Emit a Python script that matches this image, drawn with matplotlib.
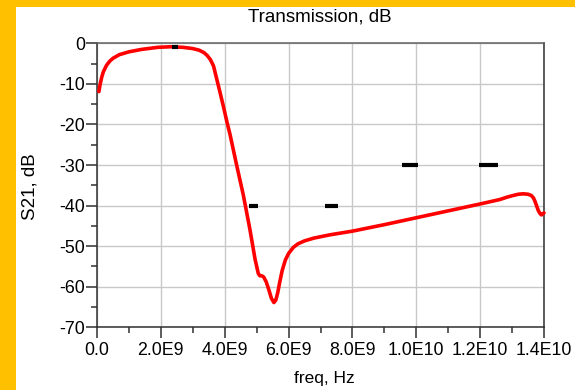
import matplotlib
matplotlib.use("Agg")
import matplotlib.pyplot as plt
import numpy as np

# Red curve S21 (GHz, dB)
freq_ghz = [0.06, 0.1, 0.15, 0.2, 0.3, 0.4, 0.5, 0.7, 1.0, 1.4, 1.9, 2.3, 2.7, 3.0, 3.2, 3.35,
            3.45, 3.55, 3.65, 3.75, 3.85, 3.96, 4.07,
            4.17, 4.37, 4.58, 4.69, 4.79, 4.95, 5.05, 5.1, 5.16, 5.22, 5.3, 5.38, 5.46, 5.54,
            5.6, 5.66, 5.72, 5.8, 5.9, 6.0, 6.15, 6.3, 6.5, 6.8, 7.3, 8.0, 9.0, 10.0, 11.0,
            12.0, 12.62, 12.85, 13.04, 13.2, 13.35, 13.5, 13.6, 13.67, 13.72, 13.77, 13.82,
            13.87, 13.92, 14.0]
s21_db = [-11.9, -10.0, -8.3, -7.0, -5.4, -4.4, -3.7, -2.8, -2.1, -1.5, -1.0, -0.85, -1.0, -1.3, -1.7, -2.3,
          -3.0, -4.0, -5.6, -8.8, -12.0, -15.6, -19.4,
          -22.6, -29.9, -37.3, -41.8, -45.9, -53.2, -56.7, -57.3, -57.3, -57.6, -58.8, -60.7, -62.8, -63.9,
          -63.3, -61.5, -59.0, -56.0, -53.4, -51.8, -50.3, -49.4, -48.7, -48.0, -47.2, -46.3, -44.7, -43.0, -41.3,
          -39.6, -38.5, -37.9, -37.5, -37.2, -37.1, -37.2, -37.5, -38.1, -39.0, -40.1, -41.2,
          -41.9, -42.3, -41.8]

# Black spec segments: start (Hz), stop (Hz), level (dB)
spec_start = [2.35e9, 4.75e9, 7.15e9, 9.55e9, 11.95e9]
spec_stop = [2.55e9, 5.05e9, 7.55e9, 10.05e9, 12.55e9]
spec_level = [-1.0, -40.0, -40.0, -30.0, -30.0]

xticks = [0, 2e9, 4e9, 6e9, 8e9, 1e10, 1.2e10, 1.4e10]
xticklabels = ["0.0", "2.0E9", "4.0E9", "6.0E9", "8.0E9", "1.0E10", "1.2E10", "1.4E10"]
yticks = [0, -10, -20, -30, -40, -50, -60, -70]
yticklabels = ["0", "-10", "-20", "-30", "-40", "-50", "-60", "-70"]

plt.rcParams['font.family'] = ['Liberation Sans', 'DejaVu Sans']

fig = plt.figure(figsize=(5.75, 3.9), dpi=100)
fig.patch.set_facecolor("white")
# orange border strips
fig.patches.append(plt.Rectangle((0, 0), 16/575, 1, transform=fig.transFigure,
                                 facecolor="#FFC000", edgecolor="none", zorder=0))
fig.patches.append(plt.Rectangle((0, 1-6.5/390), 1, 6.5/390, transform=fig.transFigure,
                                 facecolor="#FFC000", edgecolor="none", zorder=0))

ax = fig.add_axes([97/575, 1-327.3/390, (544-97)/575, (327.3-43.3)/390])
ax.set_xlim(0, 1.4e10)
ax.set_ylim(-70, 0)

ax.set_xticks(xticks)
ax.set_xticklabels(xticklabels)
ax.set_yticks(yticks)
ax.set_yticklabels(yticklabels)
ax.set_xticks(np.arange(1e9, 1.4e10, 2e9), minor=True)
ax.set_yticks(np.arange(-65, 0, 10), minor=True)
ax.tick_params(which="major", length=8, width=1.1, color="#303030", labelsize=12.8,
               direction="out")
ax.tick_params(axis="y", which="major", pad=0.5)
ax.tick_params(axis="x", which="major", pad=2.5)
ax.tick_params(which="minor", length=4.5, width=1.1, color="#303030", direction="out")
ax.tick_params(top=False, right=False)

ax.grid(True, which="major", color="#C8C8C8", linewidth=1.0)
ax.set_axisbelow(True)
for side in ["left", "bottom", "right"]:
    ax.spines[side].set_color("#303030")
    ax.spines[side].set_linewidth(1.1)
ax.spines["top"].set_color("#606060")
ax.spines["top"].set_linewidth(1.1)

f_hz = np.array(freq_ghz) * 1e9
ax.plot(f_hz, s21_db, color="#FF0000", linewidth=2.6, solid_joinstyle="round",
        solid_capstyle="round", zorder=3, clip_on=False)
for a, b, lv in zip(spec_start, spec_stop, spec_level):
    ax.plot([a, b], [lv, lv], color="black", linewidth=3.0, solid_capstyle="butt", zorder=4)

fig.text(320/575, 1-17/390, "Transmission, dB", ha="center", va="center", fontsize=13.5)
fig.text(30/575, 1-187/390, "S21, dB", ha="center", va="center", rotation=90, fontsize=13.5)
fig.text(324/575, 1-379/390, "freq, Hz", ha="center", va="center", fontsize=12.5)

fig.savefig("out.png", dpi=100, facecolor="white")
